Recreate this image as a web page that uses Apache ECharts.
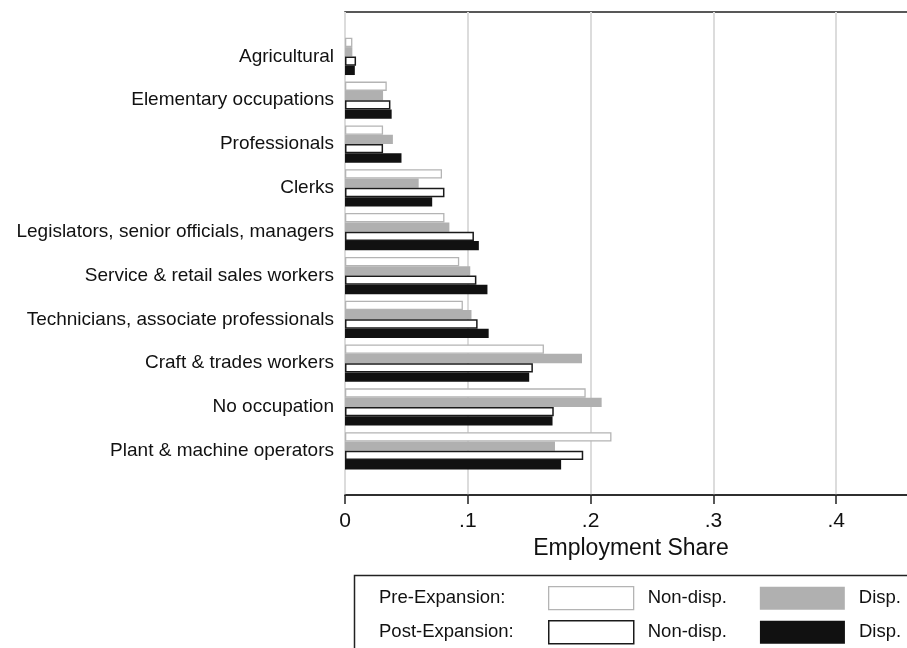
<!DOCTYPE html>
<html>
<head>
<meta charset="utf-8">
<script src="https://cdn.jsdelivr.net/npm/echarts@6/dist/echarts.min.js"></script>
<style>html,body{margin:0;padding:0;background:#fff;}#c{width:907px;height:648px;}</style>
</head>
<body>
<div id="c"></div>
<script>
const categories = [
  'Agricultural',
  'Elementary occupations',
  'Professionals',
  'Clerks',
  'Legislators, senior officials, managers',
  'Service & retail sales workers',
  'Technicians, associate professionals',
  'Craft & trades workers',
  'No occupation',
  'Plant & machine operators'
];
const preNonDisp  = [0.006, 0.034, 0.031, 0.079, 0.081, 0.093, 0.096, 0.162, 0.196, 0.217];
const preDisp     = [0.006, 0.031, 0.039, 0.060, 0.085, 0.102, 0.103, 0.193, 0.209, 0.171];
const postNonDisp = [0.009, 0.037, 0.031, 0.081, 0.105, 0.107, 0.108, 0.153, 0.170, 0.194];
const postDisp    = [0.008, 0.038, 0.046, 0.071, 0.109, 0.116, 0.117, 0.150, 0.169, 0.176];
const xTicks = [0, 0.1, 0.2, 0.3, 0.4];
const xTickLabels = ['0', '.1', '.2', '.3', '.4'];
const seriesNames = ['Pre-Expansion: Non-disp.', 'Pre-Expansion: Disp.', 'Post-Expansion: Non-disp.', 'Post-Expansion: Disp.'];

const FONT = '"Liberation Sans", Arial, Helvetica, sans-serif';
const XMAX = 0.4658;
const styles = [
  {color: '#ffffff', borderColor: '#b4b4b4', borderWidth: 1.3},
  {color: '#b0b0b0', borderColor: '#b0b0b0', borderWidth: 0},
  {color: '#ffffff', borderColor: '#1a1a1a', borderWidth: 1.5},
  {color: '#111111', borderColor: '#111111', borderWidth: 0}
];
const values = [preNonDisp, preDisp, postNonDisp, postDisp];

const chart = echarts.init(document.getElementById('c'), null, {renderer: 'canvas'});
const legendText = {fontFamily: FONT, fontSize: 18.5, color: '#111', padding: [0, 0, 0, 9]};
const fmtLegend = n => n.split(': ')[1];

chart.setOption({
  backgroundColor: '#ffffff',
  animation: false,
  textStyle: {fontFamily: FONT},
  grid: [
    {left: 345, top: 12, width: 572, height: 483, show: true, borderColor: '#222', borderWidth: 1.5,
     backgroundColor: 'transparent', containLabel: false, outerBoundsMode: 'none'},
    {left: 345, top: 34.5, width: 572, height: 438.2, containLabel: false, outerBoundsMode: 'none'}
  ],
  xAxis: [
    {
      gridIndex: 0, type: 'value', min: 0, max: XMAX, interval: 0.1,
      axisLine: {show: true, lineStyle: {color: '#222', width: 1.5}},
      axisTick: {show: true, length: 9, lineStyle: {color: '#222', width: 1.5}},
      axisLabel: {
        fontFamily: FONT, fontSize: 21, color: '#111', margin: 16, showMaxLabel: false,
        formatter: v => { const i = xTicks.findIndex(t => Math.abs(t - v) < 1e-9); return i >= 0 ? xTickLabels[i] : ''; }
      },
      splitLine: {show: true, lineStyle: {color: '#dcdcdc', width: 2}},
      name: 'Employment Share', nameLocation: 'middle', nameGap: 42,
      nameTextStyle: {fontFamily: FONT, fontSize: 23, color: '#111'}
    },
    {gridIndex: 1, type: 'value', min: 0, max: XMAX, show: false}
  ],
  yAxis: [
    {gridIndex: 0, type: 'value', show: false},
    {
      gridIndex: 1, type: 'category', data: categories, inverse: true,
      axisLine: {show: false}, axisTick: {show: false}, splitLine: {show: false},
      axisLabel: {fontFamily: FONT, fontSize: 19, color: '#111', margin: 11, interval: 0}
    }
  ],
  legend: [
    {
      data: [
        {name: seriesNames[0], itemStyle: styles[0]},
        {name: seriesNames[1], itemStyle: styles[1]}
      ],
      left: 548, top: 586, padding: 0, itemWidth: 85, itemHeight: 23, itemGap: 33,
      icon: 'rect', formatter: fmtLegend, textStyle: legendText, selectedMode: false
    },
    {
      data: [
        {name: seriesNames[2], itemStyle: styles[2]},
        {name: seriesNames[3], itemStyle: styles[3]}
      ],
      left: 548, top: 620, padding: 0, itemWidth: 85, itemHeight: 23, itemGap: 33,
      icon: 'rect', formatter: fmtLegend, textStyle: legendText, selectedMode: false
    }
  ],
  graphic: [
    {type: 'rect', shape: {x: 354.5, y: 575.5, width: 620, height: 120}, style: {fill: 'none', stroke: '#222', lineWidth: 1.5}, silent: true},
    {type: 'text', x: 379, y: 597.5, style: {text: 'Pre-Expansion:', fontFamily: FONT, fontSize: 18.5, fill: '#111', verticalAlign: 'middle'}},
    {type: 'text', x: 379, y: 631.5, style: {text: 'Post-Expansion:', fontFamily: FONT, fontSize: 18.5, fill: '#111', verticalAlign: 'middle'}}
  ],
  series: seriesNames.map((name, i) => ({
    name: name, type: 'bar', xAxisIndex: 1, yAxisIndex: 1,
    data: values[i], itemStyle: styles[i],
    barGap: '0%', barCategoryGap: '15%', silent: true
  }))
});
</script>
</body>
</html>
